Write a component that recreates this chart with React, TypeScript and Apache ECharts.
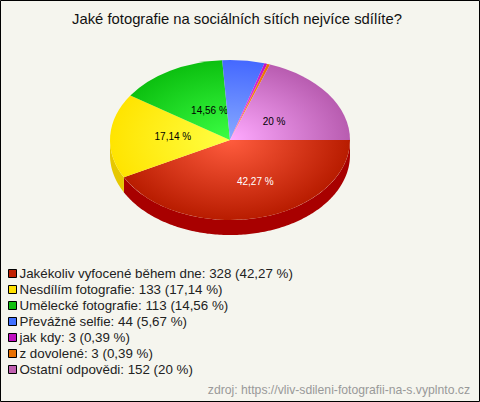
import React, { useEffect, useRef } from "react";
import * as echarts from "echarts";

const titleText = "Jaké fotografie na sociálních sítích nejvíce sdílíte?";
const sourceText = "zdroj: https://vliv-sdileni-fotografii-na-s.vyplnto.cz";
const categories = ["Jakékoliv vyfocené během dne", "Nesdílím fotografie", "Umělecké fotografie", "Převážně selfie", "jak kdy", "z dovolené", "Ostatní odpovědi"];
const values = [328, 133, 113, 44, 3, 3, 152];
const percentLabels = ["42,27 %", "17,14 %", "14,56 %", "5,67 %", "0,39 %", "0,39 %", "20 %"];
const legendColors = ["#c02000", "#ffe000", "#10c010", "#4070ff", "#c010c0", "#e87000", "#c060b0"];
const innerColors = ["#ff5c3e", "#ffff44", "#3cff44", "#88aaff", "#ff55ff", "#ffa040", "#ffaaff"];
const outerColors = ["#b81c00", "#ffe400", "#0cc010", "#4468ff", "#c010c0", "#e87000", "#b85cb0"];
const wallColors = ["#a80000", "#e6c800", "#0a9a0a", "#3050c0", "#900090", "#b05000", "#904088"];
const labelColors = ["#ffffff", "#000000", "#000000", "#000000", "#000000", "#000000", "#000000"];
const labelShown = [true, true, true, false, false, false, true];
const labelNudgeX = [12, -2, 7, 0, 0, 0, -1];
const labelNudgeY = [6, -2, 2, 0, 0, 0, 3];

const CX = 230, CY = 140, RX = 120, RY = 80, DEPTH = 15;
const total = values.reduce((a, b) => a + b, 0);
const angles: number[] = [0];
values.forEach((v, i) => angles.push(angles[i] + (v / total) * Math.PI * 2));
const ys = RY / RX;

function wallPoints(a0: number, a1: number) {
  const from = Math.max(a0, 0), to = Math.min(a1, Math.PI);
  if (to <= from) return null;
  const d = DEPTH / ys, top: number[][] = [], bottom: number[][] = [];
  const n = Math.ceil((to - from) * 60);
  for (let k = 0; k <= n; k++) {
    const a = from + ((to - from) * k) / n;
    const x = RX * Math.cos(a), y = RX * Math.sin(a);
    top.push([x, y]);
    bottom.unshift([x, y + d]);
  }
  return top.concat(bottom);
}

function makeRender(i: number) {
  return () => {
    const a0 = angles[i], a1 = angles[i + 1], mid = (a0 + a1) / 2;
    const children: any[] = [];
    const wall = wallPoints(a0, a1);
    if (wall) children.push({ type: "polygon", shape: { points: wall }, style: { fill: wallColors[i] } });
    children.push({
      type: "sector",
      shape: { cx: 0, cy: 0, r: RX, r0: 0, startAngle: a0, endAngle: a1, clockwise: true },
      style: {
        fill: { type: "radial", x: 0, y: 0, r: RX, global: true, colorStops: [{ offset: 0, color: innerColors[i] }, { offset: 1, color: outerColors[i] }] },
      },
    });
    const out: any[] = [{ type: "group", x: CX, y: CY, scaleY: ys, children }];
    if (labelShown[i]) {
      out.push({
        type: "text",
        x: CX + RX * 0.46 * Math.cos(mid) + labelNudgeX[i],
        y: CY + RY * 0.46 * Math.sin(mid) + labelNudgeY[i],
        style: { text: percentLabels[i], fill: labelColors[i], font: '10px "Liberation Sans"', align: "center", verticalAlign: "middle" },
      });
    }
    return { type: "group", children: out };
  };
}

const legendNames = categories.map((c, i) => `${c}: ${values[i]} (${percentLabels[i]})`);

export default function App() {
  const ref = useRef<HTMLDivElement>(null);
  useEffect(() => {
    document.body.style.margin = "0";
    const chart = echarts.init(ref.current!, null, { renderer: "svg" });
    chart.setOption({
      animation: false,
      backgroundColor: "#f5f5ee",
      title: [
        { text: titleText, left: 232, textAlign: "center", top: 6, textStyle: { fontFamily: "Liberation Sans", fontSize: 14.8, fontWeight: "normal", color: "#111" } },
      ],
      legend: {
        orient: "vertical", left: 8, top: 267, itemWidth: 8, itemHeight: 8, itemGap: 3, padding: 0,
        icon: "rect", selectedMode: false, data: legendNames,
        textStyle: { fontFamily: "Liberation Sans", fontSize: 13.33, color: "#222", lineHeight: 12, padding: [0, 0, 0, -2] },
        itemStyle: { borderColor: "#000", borderWidth: 1 },
      },
      graphic: [
        { type: "rect", z: -1, shape: { x: 0.5, y: 0.5, width: 479, height: 401 }, style: { fill: "none", stroke: "#000", lineWidth: 1 } },
        { type: "text", x: 470, y: 390, style: { text: sourceText, fill: "#999", font: '12.2px "Liberation Sans"', align: "right", verticalAlign: "middle" } },
      ],
      series: categories.map((_, i) => ({
        type: "custom",
        name: legendNames[i],
        coordinateSystem: "none",
        itemStyle: { color: legendColors[i] },
        data: [values[i]],
        renderItem: makeRender(i),
      })),
    });
    return () => chart.dispose();
  }, []);
  return <div ref={ref} style={{ width: 480, height: 402 }} />;
}
